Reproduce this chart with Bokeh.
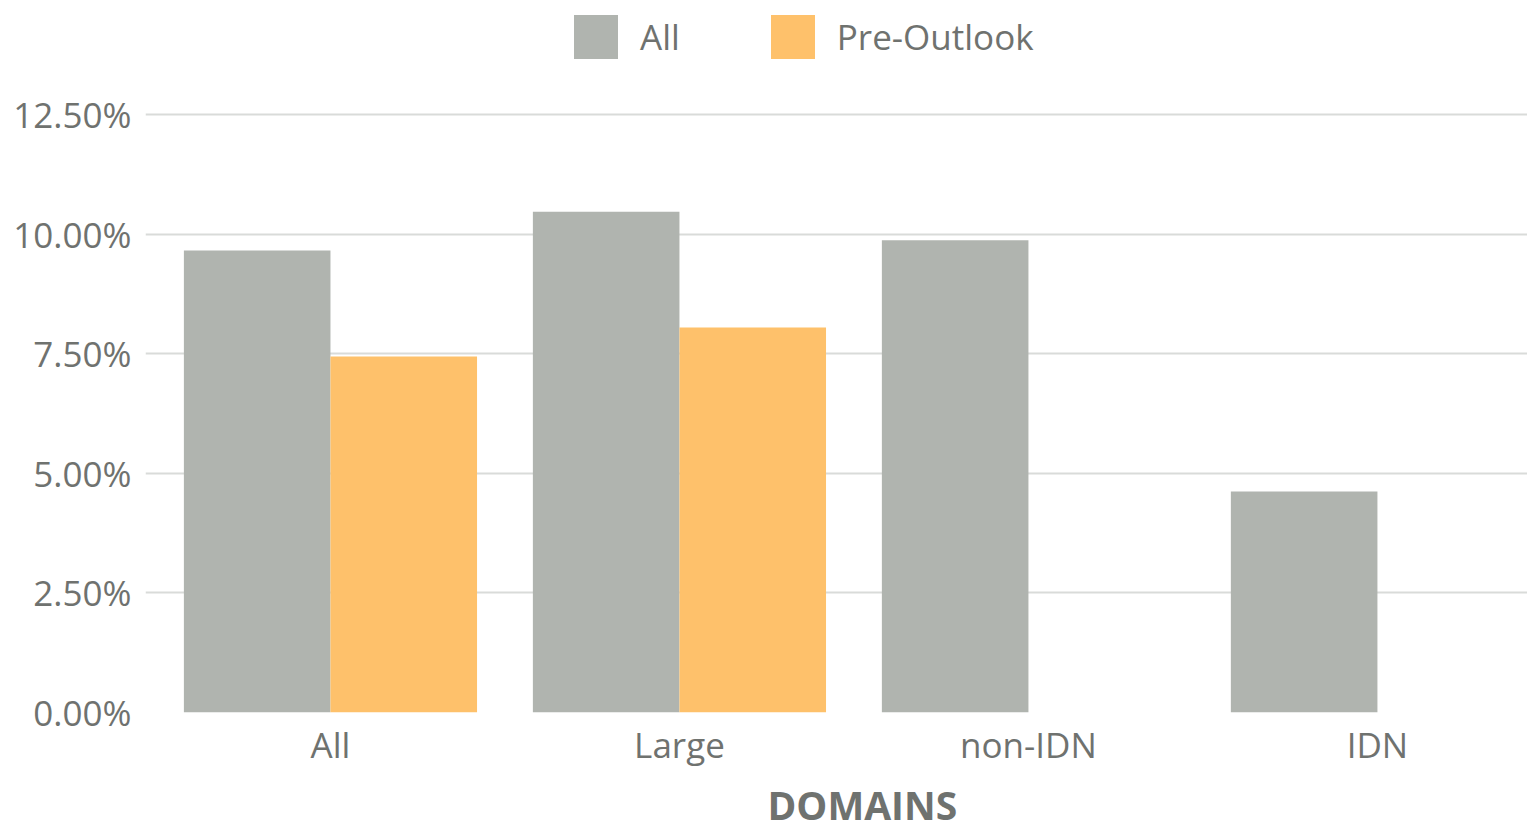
from bokeh.plotting import figure
from bokeh.models import (ColumnDataSource, FixedTicker, PrintfTickFormatter, Legend, LegendItem, Title)
from bokeh.embed import file_html
from bokeh.resources import INLINE

categories = ["All", "Large", "non-IDN", "IDN"]
all_values = [9.66, 10.47, 9.87, 4.62]
pre_outlook_values = [7.44, 8.05, None, None]
y_ticks = [0, 2.5, 5, 7.5, 10, 12.5]
x_title = "DOMAINS"

GREY = "#b0b4af"
ORANGE = "#fec16b"
TEXT = "#6f726f"
FONT = "Open Sans"

idx = list(range(len(categories)))
src_all = ColumnDataSource(dict(x=[i - 0.21 for i in idx], top=all_values))
pre_x = [i + 0.21 for i, v in zip(idx, pre_outlook_values) if v is not None]
pre_top = [v for v in pre_outlook_values if v is not None]
src_pre = ColumnDataSource(dict(x=pre_x, top=pre_top))

p = figure(width=1527, height=836, output_backend="svg", toolbar_location=None,
           x_range=(-0.53, 3.43), y_range=(0, 14.78),
           min_border_left=145, min_border_right=0, min_border_top=5, min_border_bottom=124)
p.outline_line_color = None
p.background_fill_color = "white"
p.border_fill_color = "white"

r1 = p.vbar(x="x", top="top", bottom=0, width=0.42, source=src_all, fill_color=GREY, line_color=None)
r2 = p.vbar(x="x", top="top", bottom=0, width=0.42, source=src_pre, fill_color=ORANGE, line_color=None)

# axes
p.xaxis.ticker = FixedTicker(ticks=idx)
p.xaxis.major_label_overrides = {i: c for i, c in zip(idx, categories)}
p.yaxis.ticker = FixedTicker(ticks=y_ticks)
p.yaxis.formatter = PrintfTickFormatter(format="%.2f%%")
for ax in (p.xaxis, p.yaxis):
    ax.axis_line_color = None
    ax.major_tick_line_color = None
    ax.minor_tick_line_color = None
    ax.major_tick_out = 0
    ax.major_tick_in = 0
    ax.major_label_text_font = FONT
    ax.major_label_text_font_size = "35px"
    ax.major_label_text_color = TEXT
p.xaxis.major_label_standoff = 8
p.yaxis.major_label_standoff = 14

p.xgrid.grid_line_color = None
p.ygrid.ticker = FixedTicker(ticks=y_ticks)
p.ygrid.grid_line_color = "#d9dbd9"
p.ygrid.grid_line_width = 2

legend = Legend(items=[LegendItem(label="All", renderers=[r1]),
                       LegendItem(label="Pre-Outlook", renderers=[r2])],
                orientation="horizontal", location=(423, 648),
                glyph_width=55, glyph_height=55, label_standoff=17, spacing=85,
                padding=0, margin=0, border_line_color=None, background_fill_alpha=0,
                label_text_font=FONT, label_text_font_size="35px", label_text_color=TEXT)
p.add_layout(legend, "center")

title = Title(text=x_title, align="left", offset=622, standoff=11,
              text_font=FONT, text_font_size="39px", text_font_style="bold", text_color=TEXT)
p.add_layout(title, "below")

open("out.html", "w").write(file_html(p, INLINE))
